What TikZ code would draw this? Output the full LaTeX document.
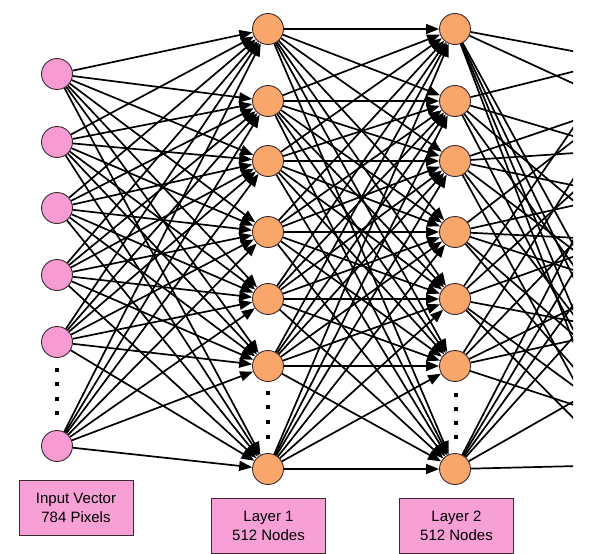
\documentclass[tikz,border=0pt]{standalone}
\usepackage{fontspec}
\setmainfont{Liberation Sans}
\usetikzlibrary{arrows.meta}
\definecolor{inpink}{HTML}{F79BD3}
\definecolor{boxpink}{HTML}{F7A0D6}
\definecolor{hidorange}{HTML}{F9A66A}
\definecolor{edgedark}{HTML}{3A2A30}
\tikzset{
  inneuron/.style={circle, draw=edgedark, line width=0.9pt, fill=inpink, minimum size=31pt, inner sep=0pt},
  hidneuron/.style={circle, draw=edgedark, line width=0.9pt, fill=hidorange, minimum size=31pt, inner sep=0pt},
  labelbox/.style={draw=edgedark, line width=0.9pt, fill=boxpink, minimum width=114pt, minimum height=55pt, align=center, font=\fontsize{15}{19}\selectfont, inner sep=0pt},
  wire/.style={line width=1.7pt, black, -{Triangle[length=13pt,width=10pt]}},
  plainwire/.style={line width=1.7pt, black},
  vdot/.style={fill=black, inner sep=0pt, minimum size=3.4pt, rectangle}
}
\begin{document}
\begin{tikzpicture}[x=1pt,y=-1pt]
\useasboundingbox (0,0) rectangle (589,554);
% input layer
\foreach \i/\yy in {1/74,2/142,3/208,4/275,5/342,6/446}
  \node[inneuron] (i\i) at (57,\yy) {};
% hidden layers
\foreach \i/\yy in {1/29,2/101,3/161,4/232,5/299,6/366,7/469}{
  \node[hidneuron] (a\i) at (268,\yy) {};
  \node[hidneuron] (b\i) at (455,\yy) {};
}
% dots
\foreach \yy in {370,384,399,413} \node[vdot] (di\yy) at (57,\yy) {};
\foreach \yy in {393,407,422,437} \node[vdot] (da\yy) at (268,\yy) {};
\foreach \yy in {395,409,423,437} \node[vdot] (db\yy) at (456,\yy) {};
% connections input -> layer 1
\foreach \i in {1,...,6}
  \foreach \j in {1,...,7}
    \draw[wire] (i\i) -- (a\j);
% connections layer 1 -> layer 2
\foreach \i in {1,...,7}
  \foreach \j in {1,...,7}
    \draw[wire] (a\i) -- (b\j);
% off-page next layer
\foreach \k/\yy in {1/60,2/105,3/150,4/195,5/240,6/285,7/330,8/375,9/420,10/465}
  \coordinate (c\k) at (620,\yy);
\begin{scope}
\clip (0,0) rectangle (573,554);
\foreach \i/\tlist in {1/{1,2,7,8,9,10},2/{1,3,5,7,9},3/{2,3,4,6,8,10},4/{2,4,5,6,8,9},5/{1,3,5,7,9,10},6/{2,4,6,7,9},7/{3,4,5,6,8,10}}
  \foreach \k in \tlist
    \draw[plainwire] (b\i) -- (c\k);
\end{scope}
% labels
\node[labelbox] (lin) at (76,507.5) {Input Vector\\784 Pixels};
\node[labelbox] (l1) at (268.5,525.5) {Layer 1\\512 Nodes};
\node[labelbox] (l2) at (456.5,525.5) {Layer 2\\512 Nodes};
\end{tikzpicture}
\end{document}
